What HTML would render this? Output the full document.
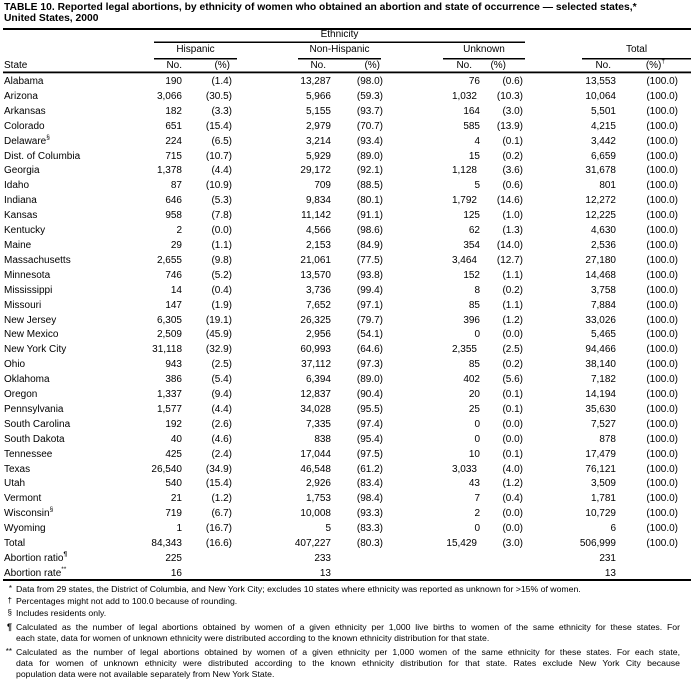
<!DOCTYPE html>
<html><head><meta charset="utf-8">
<style>
*{margin:0;padding:0;box-sizing:border-box}
html,body{width:691px;height:688px;background:#fff;overflow:hidden}
body{position:relative;font-family:"Liberation Sans",Arial,sans-serif;color:#000;font-size:10px}
.a{position:absolute;white-space:nowrap;line-height:14px}
.t{position:absolute;left:4px;font-weight:bold;font-size:10.3px;line-height:10px;white-space:nowrap}
#rows{position:absolute;left:0;top:75px;width:691px}
.r{position:relative;height:14.92px;line-height:14px}
.r span{position:absolute;top:0;white-space:nowrap}
.s{left:4px}
.c1{right:509px}.c2{right:459px}.c3{right:360px}.c4{right:308px}
.c5{right:211px}.c5b{right:214px}.c6{right:168px}.c7{right:75px}.c8{right:13px}
sup{font-size:6.5px;vertical-align:top;position:relative;top:-2px;line-height:10px}
.g{position:absolute;text-align:center;line-height:14px;white-space:nowrap}
.fn{position:absolute;font-size:8.7px;line-height:10px;white-space:nowrap}
.fm{position:absolute;font-size:8px;line-height:10px;width:10px;text-align:right;left:2px}
.j{position:absolute;left:16px;width:664px;font-size:8.7px;line-height:10px;text-align:justify;text-align-last:justify;height:10px;overflow:hidden}
</style></head><body>
<svg width="691" height="688" style="position:absolute;left:0;top:0">
<rect x="3" y="28" width="688" height="2" fill="#000"/>
<rect x="154" y="41.5" width="371" height="1.5" fill="#000"/>
<rect x="154" y="58" width="83" height="1.5" fill="#000"/>
<rect x="298" y="58" width="83" height="1.5" fill="#000"/>
<rect x="443" y="58" width="82" height="1.5" fill="#000"/>
<rect x="582" y="58" width="109" height="1.5" fill="#000"/>
<rect x="3" y="71.5" width="688" height="1.8" fill="#000"/>
<rect x="3" y="579" width="688" height="2" fill="#000"/>
</svg>

<div class="t" style="top:3px">TABLE 10. Reported legal abortions, by ethnicity of women who obtained an abortion and state of occurrence — selected states,*</div>
<div class="t" style="top:14px">United States, 2000</div>

<div class="g" style="left:154px;width:371px;top:28px">Ethnicity</div>
<div class="g" style="left:154px;width:83px;top:43px">Hispanic</div>
<div class="g" style="left:298px;width:83px;top:43px">Non-Hispanic</div>
<div class="g" style="left:443px;width:82px;top:43px">Unknown</div>
<div class="g" style="left:582px;width:109px;top:43px">Total</div>

<div class="a" style="left:4px;top:58.5px">State</div>
<div class="a" style="right:509px;top:58.5px">No.</div>
<div class="a" style="right:461px;top:58.5px">(%)</div>
<div class="a" style="right:365px;top:58.5px">No.</div>
<div class="a" style="right:311px;top:58.5px">(%)</div>
<div class="a" style="right:219px;top:58.5px">No.</div>
<div class="a" style="right:185px;top:58.5px">(%)</div>
<div class="a" style="right:80px;top:58.5px">No.</div>
<div class="a" style="right:26px;top:58.5px">(%)<sup>†</sup></div>

<div id="rows">
<div class="r"><span class="s">Alabama</span><span class="c1">190</span><span class="c2">(1.4)</span><span class="c3">13,287</span><span class="c4">(98.0)</span><span class="c5">76</span><span class="c6">(0.6)</span><span class="c7">13,553</span><span class="c8">(100.0)</span></div>
<div class="r"><span class="s">Arizona</span><span class="c1">3,066</span><span class="c2">(30.5)</span><span class="c3">5,966</span><span class="c4">(59.3)</span><span class="c5b">1,032</span><span class="c6">(10.3)</span><span class="c7">10,064</span><span class="c8">(100.0)</span></div>
<div class="r"><span class="s">Arkansas</span><span class="c1">182</span><span class="c2">(3.3)</span><span class="c3">5,155</span><span class="c4">(93.7)</span><span class="c5">164</span><span class="c6">(3.0)</span><span class="c7">5,501</span><span class="c8">(100.0)</span></div>
<div class="r"><span class="s">Colorado</span><span class="c1">651</span><span class="c2">(15.4)</span><span class="c3">2,979</span><span class="c4">(70.7)</span><span class="c5">585</span><span class="c6">(13.9)</span><span class="c7">4,215</span><span class="c8">(100.0)</span></div>
<div class="r"><span class="s">Delaware<sup>§</sup></span><span class="c1">224</span><span class="c2">(6.5)</span><span class="c3">3,214</span><span class="c4">(93.4)</span><span class="c5">4</span><span class="c6">(0.1)</span><span class="c7">3,442</span><span class="c8">(100.0)</span></div>
<div class="r"><span class="s">Dist. of Columbia</span><span class="c1">715</span><span class="c2">(10.7)</span><span class="c3">5,929</span><span class="c4">(89.0)</span><span class="c5">15</span><span class="c6">(0.2)</span><span class="c7">6,659</span><span class="c8">(100.0)</span></div>
<div class="r"><span class="s">Georgia</span><span class="c1">1,378</span><span class="c2">(4.4)</span><span class="c3">29,172</span><span class="c4">(92.1)</span><span class="c5b">1,128</span><span class="c6">(3.6)</span><span class="c7">31,678</span><span class="c8">(100.0)</span></div>
<div class="r"><span class="s">Idaho</span><span class="c1">87</span><span class="c2">(10.9)</span><span class="c3">709</span><span class="c4">(88.5)</span><span class="c5">5</span><span class="c6">(0.6)</span><span class="c7">801</span><span class="c8">(100.0)</span></div>
<div class="r"><span class="s">Indiana</span><span class="c1">646</span><span class="c2">(5.3)</span><span class="c3">9,834</span><span class="c4">(80.1)</span><span class="c5b">1,792</span><span class="c6">(14.6)</span><span class="c7">12,272</span><span class="c8">(100.0)</span></div>
<div class="r"><span class="s">Kansas</span><span class="c1">958</span><span class="c2">(7.8)</span><span class="c3">11,142</span><span class="c4">(91.1)</span><span class="c5">125</span><span class="c6">(1.0)</span><span class="c7">12,225</span><span class="c8">(100.0)</span></div>
<div class="r"><span class="s">Kentucky</span><span class="c1">2</span><span class="c2">(0.0)</span><span class="c3">4,566</span><span class="c4">(98.6)</span><span class="c5">62</span><span class="c6">(1.3)</span><span class="c7">4,630</span><span class="c8">(100.0)</span></div>
<div class="r"><span class="s">Maine</span><span class="c1">29</span><span class="c2">(1.1)</span><span class="c3">2,153</span><span class="c4">(84.9)</span><span class="c5">354</span><span class="c6">(14.0)</span><span class="c7">2,536</span><span class="c8">(100.0)</span></div>
<div class="r"><span class="s">Massachusetts</span><span class="c1">2,655</span><span class="c2">(9.8)</span><span class="c3">21,061</span><span class="c4">(77.5)</span><span class="c5b">3,464</span><span class="c6">(12.7)</span><span class="c7">27,180</span><span class="c8">(100.0)</span></div>
<div class="r"><span class="s">Minnesota</span><span class="c1">746</span><span class="c2">(5.2)</span><span class="c3">13,570</span><span class="c4">(93.8)</span><span class="c5">152</span><span class="c6">(1.1)</span><span class="c7">14,468</span><span class="c8">(100.0)</span></div>
<div class="r"><span class="s">Mississippi</span><span class="c1">14</span><span class="c2">(0.4)</span><span class="c3">3,736</span><span class="c4">(99.4)</span><span class="c5">8</span><span class="c6">(0.2)</span><span class="c7">3,758</span><span class="c8">(100.0)</span></div>
<div class="r"><span class="s">Missouri</span><span class="c1">147</span><span class="c2">(1.9)</span><span class="c3">7,652</span><span class="c4">(97.1)</span><span class="c5">85</span><span class="c6">(1.1)</span><span class="c7">7,884</span><span class="c8">(100.0)</span></div>
<div class="r"><span class="s">New Jersey</span><span class="c1">6,305</span><span class="c2">(19.1)</span><span class="c3">26,325</span><span class="c4">(79.7)</span><span class="c5">396</span><span class="c6">(1.2)</span><span class="c7">33,026</span><span class="c8">(100.0)</span></div>
<div class="r"><span class="s">New Mexico</span><span class="c1">2,509</span><span class="c2">(45.9)</span><span class="c3">2,956</span><span class="c4">(54.1)</span><span class="c5">0</span><span class="c6">(0.0)</span><span class="c7">5,465</span><span class="c8">(100.0)</span></div>
<div class="r"><span class="s">New York City</span><span class="c1">31,118</span><span class="c2">(32.9)</span><span class="c3">60,993</span><span class="c4">(64.6)</span><span class="c5b">2,355</span><span class="c6">(2.5)</span><span class="c7">94,466</span><span class="c8">(100.0)</span></div>
<div class="r"><span class="s">Ohio</span><span class="c1">943</span><span class="c2">(2.5)</span><span class="c3">37,112</span><span class="c4">(97.3)</span><span class="c5">85</span><span class="c6">(0.2)</span><span class="c7">38,140</span><span class="c8">(100.0)</span></div>
<div class="r"><span class="s">Oklahoma</span><span class="c1">386</span><span class="c2">(5.4)</span><span class="c3">6,394</span><span class="c4">(89.0)</span><span class="c5">402</span><span class="c6">(5.6)</span><span class="c7">7,182</span><span class="c8">(100.0)</span></div>
<div class="r"><span class="s">Oregon</span><span class="c1">1,337</span><span class="c2">(9.4)</span><span class="c3">12,837</span><span class="c4">(90.4)</span><span class="c5">20</span><span class="c6">(0.1)</span><span class="c7">14,194</span><span class="c8">(100.0)</span></div>
<div class="r"><span class="s">Pennsylvania</span><span class="c1">1,577</span><span class="c2">(4.4)</span><span class="c3">34,028</span><span class="c4">(95.5)</span><span class="c5">25</span><span class="c6">(0.1)</span><span class="c7">35,630</span><span class="c8">(100.0)</span></div>
<div class="r"><span class="s">South Carolina</span><span class="c1">192</span><span class="c2">(2.6)</span><span class="c3">7,335</span><span class="c4">(97.4)</span><span class="c5">0</span><span class="c6">(0.0)</span><span class="c7">7,527</span><span class="c8">(100.0)</span></div>
<div class="r"><span class="s">South Dakota</span><span class="c1">40</span><span class="c2">(4.6)</span><span class="c3">838</span><span class="c4">(95.4)</span><span class="c5">0</span><span class="c6">(0.0)</span><span class="c7">878</span><span class="c8">(100.0)</span></div>
<div class="r"><span class="s">Tennessee</span><span class="c1">425</span><span class="c2">(2.4)</span><span class="c3">17,044</span><span class="c4">(97.5)</span><span class="c5">10</span><span class="c6">(0.1)</span><span class="c7">17,479</span><span class="c8">(100.0)</span></div>
<div class="r"><span class="s">Texas</span><span class="c1">26,540</span><span class="c2">(34.9)</span><span class="c3">46,548</span><span class="c4">(61.2)</span><span class="c5b">3,033</span><span class="c6">(4.0)</span><span class="c7">76,121</span><span class="c8">(100.0)</span></div>
<div class="r"><span class="s">Utah</span><span class="c1">540</span><span class="c2">(15.4)</span><span class="c3">2,926</span><span class="c4">(83.4)</span><span class="c5">43</span><span class="c6">(1.2)</span><span class="c7">3,509</span><span class="c8">(100.0)</span></div>
<div class="r"><span class="s">Vermont</span><span class="c1">21</span><span class="c2">(1.2)</span><span class="c3">1,753</span><span class="c4">(98.4)</span><span class="c5">7</span><span class="c6">(0.4)</span><span class="c7">1,781</span><span class="c8">(100.0)</span></div>
<div class="r"><span class="s">Wisconsin<sup>§</sup></span><span class="c1">719</span><span class="c2">(6.7)</span><span class="c3">10,008</span><span class="c4">(93.3)</span><span class="c5">2</span><span class="c6">(0.0)</span><span class="c7">10,729</span><span class="c8">(100.0)</span></div>
<div class="r"><span class="s">Wyoming</span><span class="c1">1</span><span class="c2">(16.7)</span><span class="c3">5</span><span class="c4">(83.3)</span><span class="c5">0</span><span class="c6">(0.0)</span><span class="c7">6</span><span class="c8">(100.0)</span></div>
<div class="r"><span class="s">Total</span><span class="c1">84,343</span><span class="c2">(16.6)</span><span class="c3">407,227</span><span class="c4">(80.3)</span><span class="c5b">15,429</span><span class="c6">(3.0)</span><span class="c7">506,999</span><span class="c8">(100.0)</span></div>
<div class="r"><span class="s">Abortion ratio<sup><b>¶</b></sup></span><span class="c1">225</span><span class="c3">233</span><span class="c7">231</span></div>
<div class="r"><span class="s">Abortion rate<sup>**</sup></span><span class="c1">16</span><span class="c3">13</span><span class="c7">13</span></div>
</div>

<div class="fm" style="top:584px">*</div>
<div class="fn" style="left:16px;top:584px">Data from 29 states, the District of Columbia, and New York City; excludes 10 states where ethnicity was reported as unknown for &gt;15% of women.</div>
<div class="fm" style="top:596px">†</div>
<div class="fn" style="left:16px;top:596px">Percentages might not add to 100.0 because of rounding.</div>
<div class="fm" style="top:608px">§</div>
<div class="fn" style="left:16px;top:608px">Includes residents only.</div>
<div class="fm" style="top:622px;font-weight:bold;font-size:9px">¶</div>
<div class="j" style="top:622px">Calculated as the number of legal abortions obtained by women of a given ethnicity per 1,000 live births to women of the same ethnicity for these states. For</div>
<div class="fn" style="left:16px;top:633px">each state, data for women of unknown ethnicity were distributed according to the known ethnicity distribution for that state.</div>
<div class="fm" style="top:647px">**</div>
<div class="j" style="top:647px">Calculated as the number of legal abortions obtained by women of a given ethnicity per 1,000 women of the same ethnicity for these states. For each state,</div>
<div class="j" style="top:658px">data for women of unknown ethnicity were distributed according to the known ethnicity distribution for that state. Rates exclude New York City because</div>
<div class="fn" style="left:16px;top:669px">population data were not available separately from New York State.</div>
</body></html>
